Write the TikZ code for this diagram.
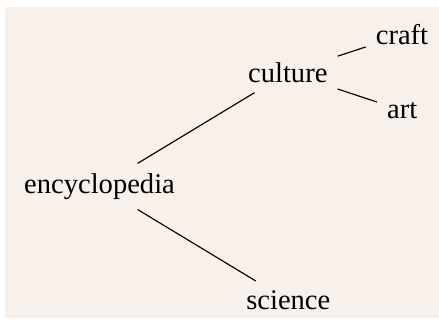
\documentclass[tikz,border=0pt]{standalone}
\usepackage{fontspec}
\setmainfont{Liberation Serif}
\definecolor{paper}{RGB}{247,240,235}

\begin{document}
\begin{tikzpicture}[x=0.35pt, y=-0.35pt]
			%%%%% START %%%%%
			
			\useasboundingbox (0, 0) rectangle (439, 320);
			\fill[paper] (5, 7) rectangle (439, 318);
			
			\node[anchor=base] (encyclopedia) at (99.5, 193.3) {encyclopedia};
			\node[anchor=base] (culture) at (287.8, 82.3) {culture};
			\node[anchor=base] (science) at (288.3, 310) {science};
			\node[anchor=base] (craft) at (402, 45) {craft};
			\node[anchor=base] (art) at (402.2, 118.3) {art};
			
			\draw (encyclopedia) -- (culture);
			\draw (encyclopedia) -- (science);
			\draw (culture) -- (craft);
			\draw (culture) -- (art);
			
			%%%%% END %%%%%
		\end{tikzpicture}
\end{document}
